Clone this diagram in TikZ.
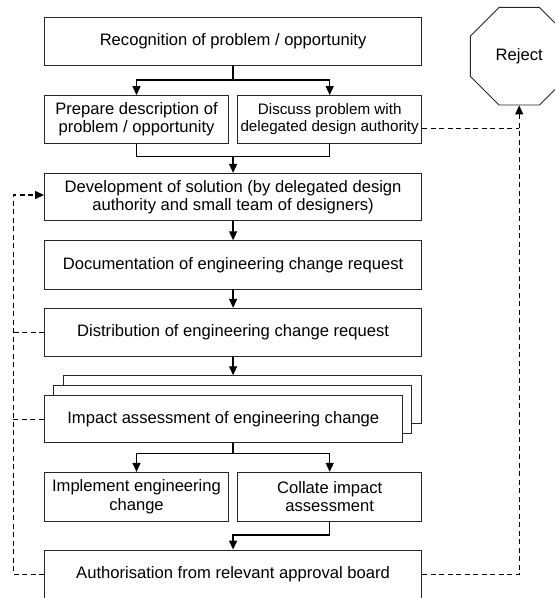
\documentclass[tikz,border=0pt]{standalone}
\usepackage{fontspec}
\setmainfont{Liberation Sans}
\usetikzlibrary{arrows.meta,shapes.geometric}
\begin{document}
\begin{tikzpicture}[x=1pt,y=-1pt,
  box/.style={draw=black!85,line width=0.9pt,inner sep=0pt,align=center,
    font=\fontsize{16.6}{18.3}\selectfont},
  wide/.style={box,minimum width=377.2pt,minimum height=48pt},
  half/.style={box,minimum width=184pt,minimum height=48pt},
  page/.style={box,fill=white,minimum width=358pt,minimum height=47.3pt},
  link/.style={line width=1.3pt},
  linkarrow/.style={link,-{Triangle[width=8pt,length=9pt]}},
  feedback/.style={line width=1.3pt,dash pattern=on 5pt off 3.5pt},
  feedbackarrow/.style={feedback,-{Triangle[width=8pt,length=9pt]}}
]
\useasboundingbox (0,0) rectangle (555,598);
\clip (0,0) rectangle (555,598);

% main process boxes
\node[wide] (rec) at (233.1,41.7) {Recognition of problem / opportunity};
\node[half] (prep) at (136.5,119.5) {Prepare description of\\problem / opportunity};
\node[half,font=\fontsize{15.2}{17}\selectfont] (disc) at (329.7,119.5) {Discuss problem with\\delegated design authority};
\node[wide,minimum height=47.4pt] (dev) at (233.1,197) {Development of solution (by delegated design\\authority and small team of designers)};
\node[wide,minimum height=48.3pt] (doc) at (233.1,264.85) {Documentation of engineering change request};
\node[wide,minimum height=48.4pt] (dist) at (233.1,332.5) {Distribution of engineering change request};

% stacked assessment sheets
\node[page] (back) at (242.85,399.35) {};
\node[page] (mid) at (232.85,409.35) {};
\node[page,minimum height=47pt] (front) at (223.3,419.2) {Impact assessment of engineering change};

\node[half,minimum height=48.7pt] (impl) at (136.5,496.65) {Implement engineering\\change};
\node[half,minimum height=48.7pt] (coll) at (329.7,496.65) {Collate impact\\assessment};
\node[wide,minimum height=49pt] (auth) at (233.1,574.5) {Authorisation from relevant approval board};

% reject terminal
\node[regular polygon,regular polygon sides=8,minimum size=105.6pt,draw=black!85,
  line width=0.9pt,inner sep=0pt,font=\fontsize{16.6}{18.3}\selectfont] (rej) at (519.2,56.2) {Reject};

% branch and join points
\coordinate (split1) at (233.1,80);
\coordinate (join1) at (233.1,156.7);
\coordinate (split2) at (233.1,453.3);
\coordinate (join2) at (233.1,535);
\coordinate (leftrail) at (13.3,0);

% solid flow
\draw[link] (rec.south) -- (split1);
\draw[linkarrow] (split1) -| (prep.north);
\draw[linkarrow] (split1) -| (disc.north);
\draw[link] (prep.south) |- (join1);
\draw[link] (disc.south) |- (join1);
\draw[linkarrow] (join1) -- (dev.north);
\draw[linkarrow] (dev.south) -- (doc.north);
\draw[linkarrow] (doc.south) -- (dist.north);
\draw[linkarrow] (dist.south) -- (dist.south |- back.north);
\draw[link] (split2 |- front.south) -- (split2);
\draw[linkarrow] (split2) -| (impl.north);
\draw[linkarrow] (split2) -| (coll.north);
\draw[linkarrow] (coll.south) |- (join2) -- (auth.north);

% feedback loops
\draw[feedbackarrow] (auth.west) -- (auth.west -| leftrail)
  -- ([yshift=2pt]dev.west -| leftrail) -- ([yshift=2pt]dev.west);
\draw[feedback] (dist.west) -- (dist.west -| leftrail);
\draw[feedback] (front.west) -- (front.west -| leftrail);
\draw[feedbackarrow] (auth.east) -- (auth.east -| rej.south) -- (rej.south);
\draw[feedback] ([yshift=-8.8pt]disc.east) -- ([yshift=-8.8pt]disc.east -| rej.south);
\end{tikzpicture}
\end{document}
